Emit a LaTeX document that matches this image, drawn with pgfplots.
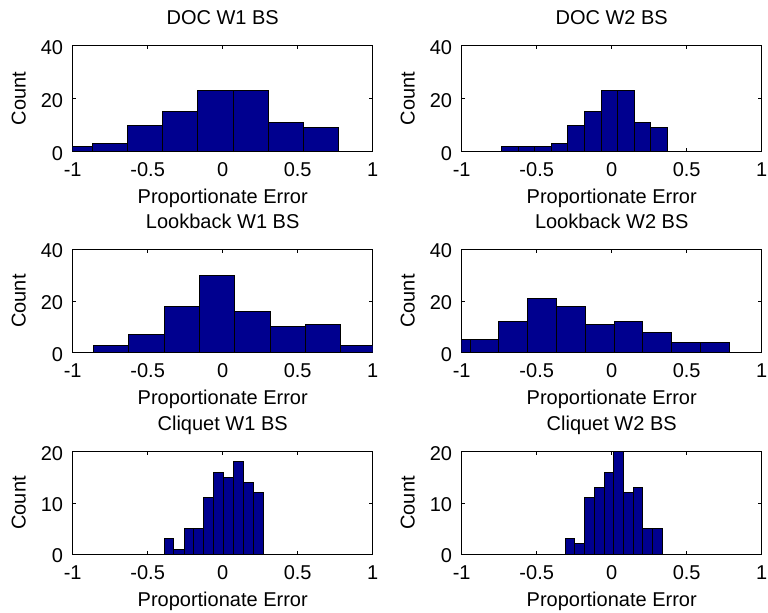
\documentclass[border=0pt]{standalone}
\usepackage{pgfplots}
\pgfplotsset{compat=1.18}
\usepackage{fontspec}
\setmainfont{Liberation Sans}
\definecolor{barblue}{RGB}{0,0,143}

% common look of the six matlab-style histogram panels
\pgfplotsset{
  hpanel/.style={
    scale only axis, width=300bp,
    xmin=-1, xmax=1, ymin=0,
    xtick={-1,-0.5,0,0.5,1},
    xticklabels={-1,-0.5,0,0.5,1},
    tick align=inside, major tick length=3.5bp,
    axis line style={line width=0.8bp},
    every tick/.style={black, line width=0.8bp},
    xticklabel style={anchor=base, inner sep=0pt, yshift=-25bp},
    yticklabel style={anchor=east, inner sep=0pt, xshift=-9.5bp, yshift=-1.5bp},
    title style={at={(axis description cs:0.5,1)}, anchor=base, yshift=15bp},
    xlabel style={at={(axis description cs:0.5,0)}, anchor=base, yshift=-52bp},
    ylabel style={at={([xshift=-54bp]axis description cs:0,0.5)}, anchor=center},
    xlabel={Proportionate Error}, ylabel={Count},
  },
  big/.style={ymax=40, ytick={0,20,40}, yticklabels={0,20,40}},
  small/.style={ymax=20, ytick={0,10,20}, yticklabels={0,10,20}},
  hbar/.style={ybar interval, fill=barblue, draw=black, line width=1bp},
}

\begin{document}
\fontsize{20bp}{23bp}\selectfont
\begin{tikzpicture}
\useasboundingbox (0,0) rectangle (768bp,613bp);

% row 1
\begin{axis}[hpanel, big, height=106bp, at={(72.7bp,567.3bp)}, anchor=north west,
  title={DOC W1 BS}]
\addplot[hbar] coordinates {(-1.103,2) (-0.868,3) (-0.634,10) (-0.400,15)
  (-0.165,23) (0.069,23) (0.304,11) (0.538,9) (0.773,0)};
\end{axis}
\begin{axis}[hpanel, big, height=106bp, at={(461.7bp,567.3bp)}, anchor=north west,
  title={DOC W2 BS}]
\addplot[hbar] coordinates {(-0.733,2) (-0.623,2) (-0.512,2) (-0.402,3)
  (-0.292,10) (-0.181,15) (-0.071,23) (0.040,23) (0.150,11) (0.261,9) (0.371,0)};
\end{axis}

% row 2
\begin{axis}[hpanel, big, height=103.5bp, at={(72.7bp,363.7bp)}, anchor=north west,
  title={Lookback W1 BS}]
\addplot[hbar] coordinates {(-0.862,3) (-0.627,7) (-0.391,18) (-0.156,30)
  (0.080,16) (0.316,10) (0.551,11) (0.787,3) (1.022,0)};
\end{axis}
\begin{axis}[hpanel, big, height=103.5bp, at={(461.7bp,363.7bp)}, anchor=north west,
  title={Lookback W2 BS}]
\addplot[hbar] coordinates {(-1.136,5) (-0.944,5) (-0.752,12) (-0.560,21)
  (-0.368,18) (-0.176,11) (0.016,12) (0.208,8) (0.400,4) (0.592,4) (0.784,0)};
\end{axis}

% row 3
\begin{axis}[hpanel, small, height=102.5bp, at={(72.7bp,161.3bp)}, anchor=north west,
  title={Cliquet W1 BS}]
\addplot[hbar] coordinates {(-0.391,3) (-0.325,1) (-0.258,5) (-0.192,5)
  (-0.125,11) (-0.059,16) (0.007,15) (0.074,18) (0.140,14) (0.207,12) (0.273,0)};
\end{axis}
\begin{axis}[hpanel, small, height=102.5bp, at={(461.7bp,161.3bp)}, anchor=north west,
  title={Cliquet W2 BS}]
\addplot[hbar] coordinates {(-0.311,3) (-0.246,2) (-0.181,11) (-0.116,13)
  (-0.051,16) (0.014,20) (0.078,12) (0.143,13) (0.208,5) (0.273,5) (0.338,0)};
\end{axis}
\end{tikzpicture}
\end{document}
